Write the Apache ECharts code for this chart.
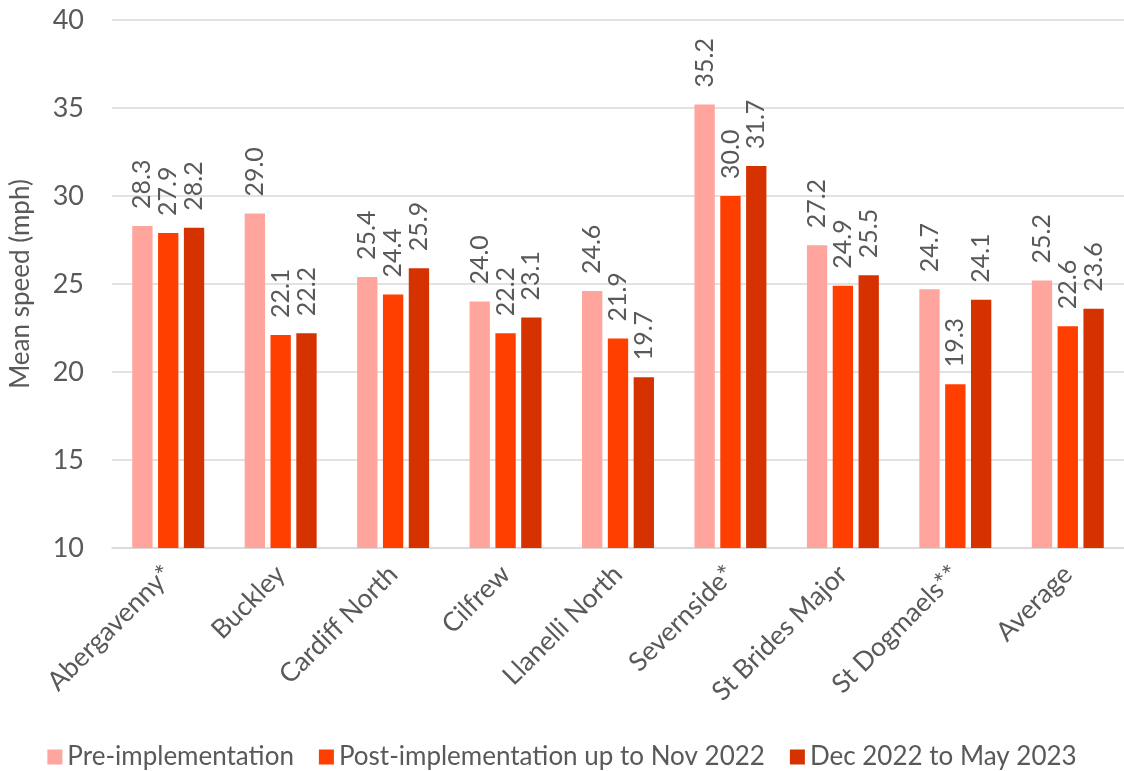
<!DOCTYPE html>
<html>
<head>
<meta charset="utf-8">
<script src="https://cdn.jsdelivr.net/npm/echarts@6/dist/echarts.min.js"></script>
<style>
html,body{margin:0;padding:0;background:#fff;}
#c{width:1124px;height:771px;}
</style>
</head>
<body>
<div id="c"></div>
<script>
const categories = ["Abergavenny*","Buckley","Cardiff North","Cilfrew","Llanelli North","Severnside*","St Brides Major","St Dogmaels**","Average"];
const seriesNames = ["Pre-implementation","Post-implementation up to Nov 2022","Dec 2022 to May 2023"];
const preImpl = [28.3, 29.0, 25.4, 24.0, 24.6, 35.2, 27.2, 24.7, 25.2];
const postImpl = [27.9, 22.1, 24.4, 22.2, 21.9, 30.0, 24.9, 19.3, 22.6];
const dec22May23 = [28.2, 22.2, 25.9, 23.1, 19.7, 31.7, 25.5, 24.1, 23.6];
const yTicks = [10, 15, 20, 25, 30, 35, 40];

const colors = ["#FFA59E", "#FF3F00", "#D63200"];
const FONT = "Lato";
const TXT = "#595959";

const chart = echarts.init(document.getElementById('c'), null, {renderer:'canvas'});
const dataSets = [preImpl, postImpl, dec22May23];
chart.setOption({
  animation: false,
  color: colors,
  textStyle: {fontFamily: FONT, color: TXT},
  grid: {left: 105, top: 20, width: 1021, height: 528, containLabel: false},
  legend: {
    top: 739, left: 'center',
    itemWidth: 15, itemHeight: 15, itemGap: 25,
    icon: 'rect',
    textStyle: {fontFamily: FONT, fontSize: 26, color: TXT},
    data: seriesNames
  },
  xAxis: {
    type: 'category',
    data: categories,
    axisTick: {show: false},
    axisLine: {show: true, lineStyle: {color: '#D9D9D9', width: 1.5}},
    axisLabel: {rotate: 45, fontFamily: FONT, fontSize: 26.5, color: TXT, margin: 22, interval: 0}
  },
  yAxis: {
    type: 'value',
    min: yTicks[0], max: yTicks[yTicks.length-1], interval: 5,
    name: 'Mean speed (mph)',
    nameLocation: 'middle',
    nameGap: 78,
    nameTextStyle: {fontFamily: FONT, fontSize: 26, color: TXT},
    axisLine: {show: false},
    axisTick: {show: false},
    axisLabel: {fontFamily: FONT, fontSize: 27, color: TXT, margin: 28},
    splitLine: {lineStyle: {color: '#D9D9D9', width: 1.5}}
  },
  series: dataSets.map((d, i) => ({
    name: seriesNames[i],
    type: 'bar',
    data: d,
    barGap: '27%',
    barCategoryGap: '36%',
    label: {
      show: true,
      position: 'top',
      rotate: 90,
      align: 'left',
      verticalAlign: 'middle',
      distance: 17,
      fontFamily: FONT,
      fontSize: 25,
      color: TXT,
      formatter: p => p.value.toFixed(1)
    }
  }))
});
</script>
</body>
</html>
